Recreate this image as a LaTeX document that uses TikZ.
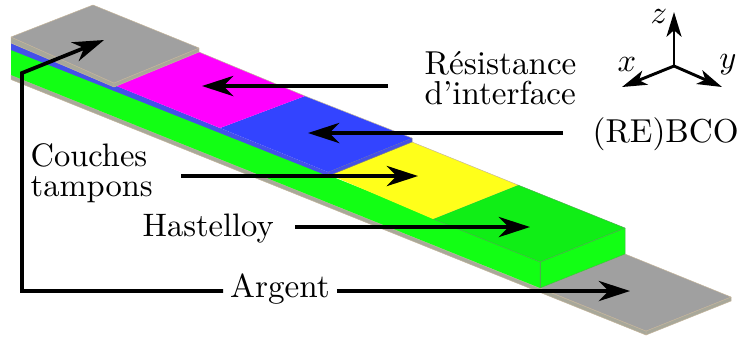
\documentclass[tikz,border=0pt]{standalone}
\usetikzlibrary{arrows.meta}
\definecolor{cGrey}{HTML}{A0A0A0}
\definecolor{cEdge}{HTML}{C4B49A}
\definecolor{cSide}{HTML}{A8A89A}
\definecolor{cGreen}{HTML}{12FF14}
\definecolor{cGreenT}{HTML}{10EE16}
\definecolor{cBlue}{HTML}{3344FF}
\definecolor{cBlueS}{HTML}{4450E8}
\definecolor{cMag}{HTML}{FF00FF}
\definecolor{cYel}{HTML}{FFFF1A}
\tikzset{
  face/.style={line width=0.15pt,line join=round},
  silver/.style={face,fill=cGrey,draw=cEdge},
  silverside/.style={face,fill=cSide,draw=cEdge},
  greenface/.style={face,fill=cGreen,draw=green!55!black!70},
  greentop/.style={face,fill=cGreenT,draw=green!55!black!70},
  arr/.style={line width=1.15pt,-{Stealth[length=9.6pt,width=6.2pt,inset=3pt]}},
  axis/.style={line width=0.9pt,-{Stealth[length=7.6pt,width=4.6pt,inset=2pt]}},
  lab/.style={inner sep=0pt,align=left},
  bigl/.style={font=\fontsize{10.2}{12}\selectfont}
}
\begin{document}
\begin{tikzpicture}[x=0.3077pt,y=-0.3077pt]
\useasboundingbox (0,0) rectangle (740,337);
% lower silver layer
\fill[cSide,draw=cEdge,face] (11,75) -- (646,331) -- (646,335) -- (11,79.5) -- cycle;
\draw[silverside] (646,331) -- (731,297) -- (731,301) -- (646,335) -- cycle;
\draw[silver] (625,254) -- (731,297) -- (646,331) -- (540,288) -- cycle;
% hastelloy
\draw[greenface,draw=none] (11,48) -- (433,217) -- (540,262) -- (540,288) -- (11,75) -- cycle;
\draw[greenface] (540,262) -- (625,228) -- (625,254) -- (540,288) -- cycle;
\draw[greentop] (433,219) -- (518,185) -- (625,228) -- (540,262) -- cycle;
\draw[face,draw=green!55!black!70] (540,262) -- (540,288);
% buffer layers
\fill[cYel] (328,174) -- (412,142) -- (518,185) -- (433,219) -- cycle;
\draw[face,draw=cEdge] (412,142) -- (518,185);
% REBCO
\fill[cBlueS] (11,43) -- (328,172) -- (328,176) -- (11,50) -- cycle;
\draw[face,fill=cBlueS,draw=gray] (328,172) -- (412,138) -- (412,142) -- (328,176) -- cycle;
\fill[cBlue] (220,128) -- (305,96) -- (412,138) -- (328,172) -- cycle;
\draw[face,draw=cEdge] (305,96) -- (412,138);
% interface resistance
\fill[cMag] (114,85) -- (199,52) -- (305,96) -- (220,128) -- cycle;
\draw[face,draw=cEdge] (199,52) -- (305,96);
% upper silver layer
\draw[silverside] (11,37) -- (114,83) -- (114,87) -- (11,43) -- cycle;
\draw[silverside] (114,83) -- (199,48) -- (199,52) -- (114,87) -- cycle;
\draw[silver] (11,37) -- (93,5) -- (199,48) -- (114,83) -- cycle;
% labels
\node[lab,bigl,anchor=west] (res) at (424,78) {Résistance\\[-2.9pt]d'interface};
\node[lab,bigl,anchor=base west] (bco) at (592,142) {(RE)BCO};
\node[lab,anchor=west] (tam) at (30,173) {Couches\\[-2.9pt]tampons};
\node[lab,anchor=base west] (has) at (142,236) {Hastelloy};
\node[bigl,anchor=base,inner sep=2pt] (arg) at (280,297) {Argent};
% arrow ends
\coordinate (resS) at (388,86); \coordinate (resE) at (202,86);
\coordinate (bcoS) at (563,133); \coordinate (bcoE) at (308,133);
\coordinate (tamS) at (181,176); \coordinate (tamE) at (418,176);
\coordinate (hasS) at (295,227); \coordinate (hasE) at (530,227);
\coordinate (argE) at (630,291); \coordinate (argE2) at (104,40);
\coordinate (bendA) at (22,291); \coordinate (bendB) at (22,73);
\draw[arr] (resS) -- (resE);
\draw[arr] (bcoS) -- (bcoE);
\draw[arr] (tamS) -- (tamE);
\draw[arr] (hasS) -- (hasE);
\draw[arr] (arg.east |- argE) -- (argE);
\draw[arr,line join=miter] (arg.west |- argE) -- (bendA) -- (bendB) -- (argE2);
% axes
\coordinate (o) at (674,66);
\coordinate (zt) at (674,12); \coordinate (xt) at (622,87); \coordinate (yt) at (722,87);
\draw[axis] (o) -- (zt);
\draw[axis] (o) -- (xt);
\draw[axis] (o) -- (yt);
\node[inner sep=0pt] (zl) at (659,16) {$z$};
\node[inner sep=0pt] (xl) at (627,64) {$x$};
\node[inner sep=0pt] (yl) at (728,65) {$y$};
\end{tikzpicture}
\end{document}
